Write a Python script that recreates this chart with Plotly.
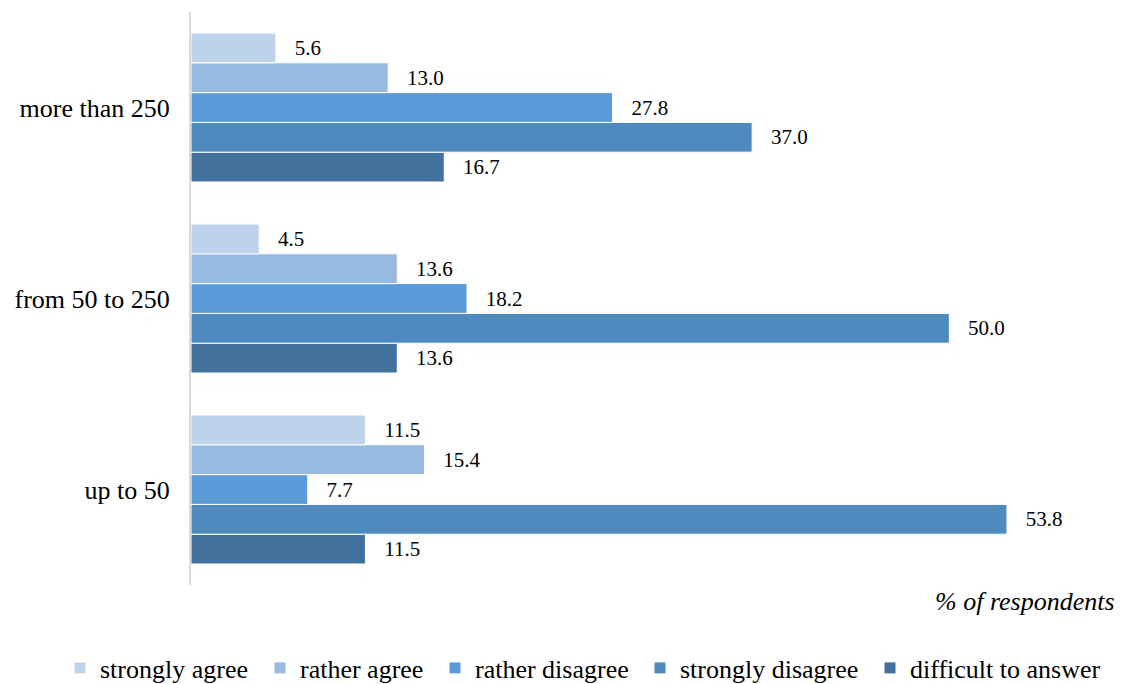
import plotly.graph_objects as go

categories = ["up to 50", "from 50 to 250", "more than 250"]
series_names = ["strongly agree", "rather agree", "rather disagree", "strongly disagree", "difficult to answer"]
values = {
    "strongly agree": [11.5, 4.5, 5.6],
    "rather agree": [15.4, 13.6, 13.0],
    "rather disagree": [7.7, 18.2, 27.8],
    "strongly disagree": [53.8, 50.0, 37.0],
    "difficult to answer": [11.5, 13.6, 16.7],
}
colors = {
    "strongly agree": "#BFD2EB",
    "rather agree": "#98B9DF",
    "rather disagree": "#5B9BD7",
    "strongly disagree": "#4F8ABF",
    "difficult to answer": "#41719C",
}
legend_text_x = [100, 300, 475, 680, 910]

FONT = "Liberation Serif"
PAD = "\u00a0\u00a0\u00a0"
fig = go.Figure()
for i, name in reversed(list(enumerate(series_names))):
    fig.add_trace(go.Bar(
        y=categories, x=values[name], name=name, orientation="h",
        marker=dict(color=colors[name], line=dict(color="white", width=1)),
        text=[f"{PAD}{v:.1f}" for v in values[name]], textposition="outside",
        textfont=dict(family=FONT, size=21, color="black"),
        cliponaxis=False,
        legend="legend" if i == 0 else f"legend{i+1}",
    ))

legend_layout = {}
for i, name in enumerate(series_names):
    key = "legend" if i == 0 else f"legend{i+1}"
    legend_layout[key] = dict(
        orientation="h", xref="container", yref="container",
        x=(legend_text_x[i] - 40) / 1121, xanchor="left", y=(684 - 668) / 684, yanchor="middle",
        font=dict(family=FONT, size=26, color="black"), bgcolor="rgba(0,0,0,0)",
    )

fig.update_layout(
    width=1121, height=684,
    margin=dict(l=191, r=20, t=12, b=99, autoexpand=False),
    barmode="group", bargap=0.22, bargroupgap=0,
    plot_bgcolor="white", paper_bgcolor="white",
    font=dict(family=FONT, size=26, color="black"),
    xaxis=dict(range=[0, 60], showgrid=False, showticklabels=False, zeroline=False, showline=False, ticks=""),
    yaxis=dict(showline=True, linecolor="#D9D9D9", linewidth=2, ticks="", showgrid=False,
               tickfont=dict(family=FONT, size=26, color="black"), ticklabelstandoff=14),
    showlegend=True,
    **legend_layout,
)
fig.add_annotation(text="<i>% of respondents</i>", xref="paper", yref="paper",
                   x=1.0 + 16 / 910, y=0.0, xanchor="right", yanchor="top",
                   showarrow=False, font=dict(family=FONT, size=26, color="black"))
fig.write_html("out.html")
